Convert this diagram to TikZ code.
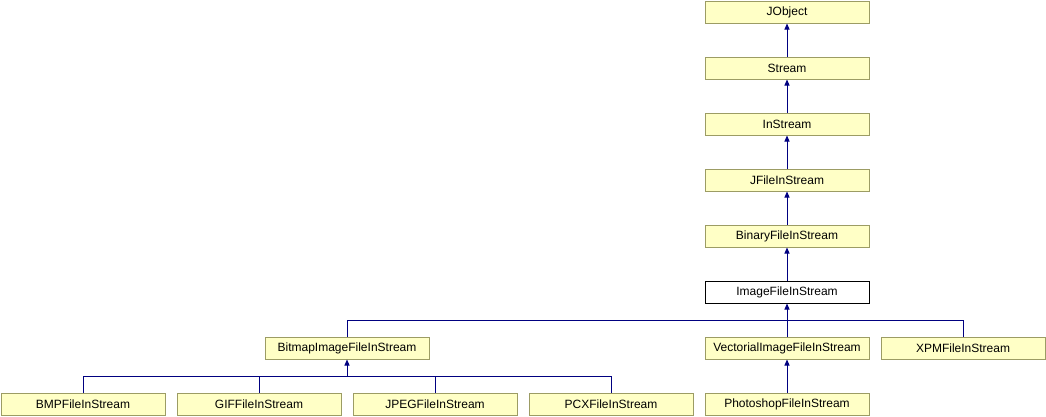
\documentclass[tikz,border=0pt]{standalone}
\usepackage{fontspec}
\setmainfont{Liberation Sans}
\usetikzlibrary{arrows.meta,calc}
\definecolor{boxfill}{HTML}{FFFFC6}
\definecolor{boxline}{HTML}{9C9C64}
\definecolor{edge}{HTML}{000080}
\begin{document}
\begin{tikzpicture}[x=1pt,y=-1pt,
  cls/.style={draw=boxline,fill=boxfill,line width=1pt,minimum width=164pt,minimum height=22pt,inner sep=0pt,font=\fontsize{12}{14}\selectfont,anchor=north west},
  cur/.style={cls,draw=black,fill=white},
  link/.style={draw=edge,line width=1pt},
  arr/.style={link,-{Triangle[width=5pt,length=6pt]}}]
\useasboundingbox (0,0) rectangle (1046,416);
\node[cls] (jobject) at (704.5,0.5) {JObject};
\node[cls] (stream) at (704.5,56.5) {Stream};
\node[cls] (instream) at (704.5,112.5) {InStream};
\node[cls] (jfile) at (704.5,168.5) {JFileInStream};
\node[cls] (binary) at (704.5,224.5) {BinaryFileInStream};
\node[cur] (image) at (704.5,280.5) {ImageFileInStream};
\node[cls] (bitmap) at (264.5,336.5) {BitmapImageFileInStream};
\node[cls] (vect) at (704.5,336.5) {VectorialImageFileInStream};
\node[cls] (xpm) at (880.5,336.5) {XPMFileInStream};
\node[cls] (bmp) at (0.5,392.5) {BMPFileInStream};
\node[cls] (gif) at (176.5,392.5) {GIFFileInStream};
\node[cls] (jpeg) at (352.5,392.5) {JPEGFileInStream};
\node[cls] (pcx) at (528.5,392.5) {PCXFileInStream};
\node[cls] (photo) at (704.5,392.5) {PhotoshopFileInStream};
\draw[arr] (stream.north) -- (jobject.south);
\draw[arr] (instream.north) -- (stream.south);
\draw[arr] (jfile.north) -- (instream.south);
\draw[arr] (binary.north) -- (jfile.south);
\draw[arr] (image.north) -- (binary.south);
\coordinate (hubA) at ($(image.south)+(0,17)$);
\draw[link] (bitmap.north) |- (hubA) -| (xpm.north);
\draw[arr] (vect.north) -- (image.south);
\coordinate (hubB) at ($(bitmap.south)+(0,17)$);
\draw[link] (bmp.north) |- (hubB) -| (pcx.north);
\draw[link] (gif.north) -- (gif.north |- hubB);
\draw[link] (jpeg.north) -- (jpeg.north |- hubB);
\draw[arr] (hubB) -- (bitmap.south);
\draw[arr] (photo.north) -- (vect.south);
\end{tikzpicture}
\end{document}
